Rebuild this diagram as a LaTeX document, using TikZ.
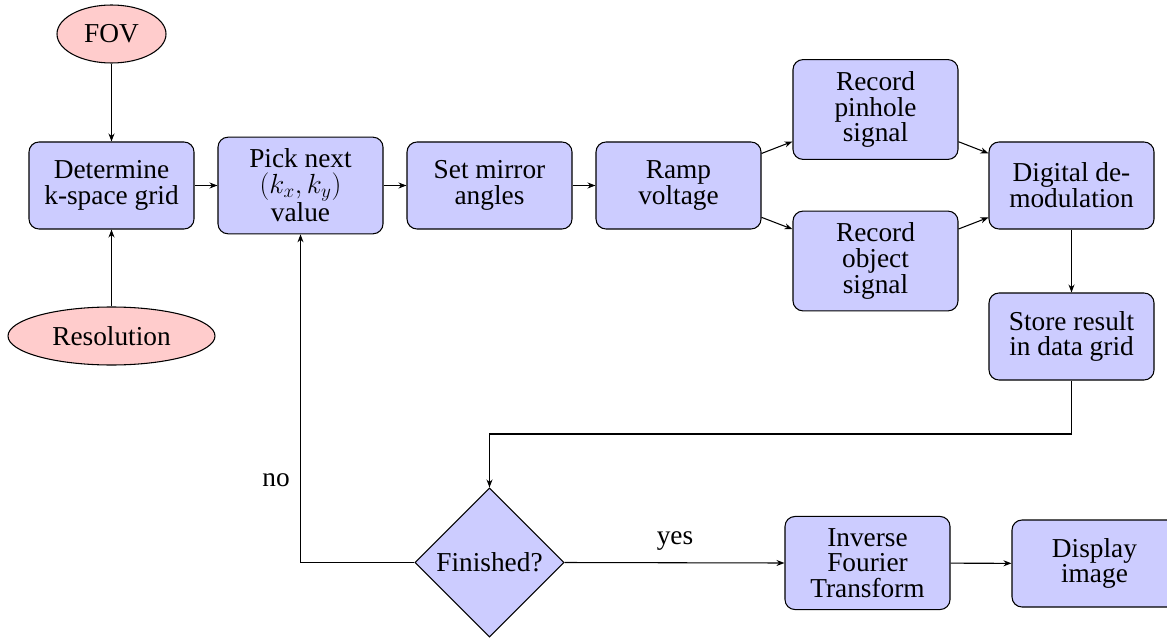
\documentclass[tikz,border=0pt]{standalone}
\usepackage{fontspec}
\setmainfont{Liberation Serif}
\newfontfamily\nodefont{Liberation Serif}
\usetikzlibrary{shapes.geometric,arrows.meta}
\begin{document}
\begin{tikzpicture}[x=0.75pt,y=-0.75pt,
  every node/.style={font=\nodefont\fontsize{20.5}{19.3}\selectfont},
  proc/.style={draw, rounded corners=7.5pt, fill=blue!20, align=center,
    minimum width=123.75pt, minimum height=65.25pt, inner xsep=4pt, inner ysep=8.8pt, line width=0.8pt},
  src/.style={draw, ellipse, fill=red!20, inner sep=1pt, line width=0.8pt},
  dec/.style={draw, diamond, fill=blue!20, inner sep=0pt, minimum size=111.75pt, line width=0.8pt},
  conn/.style={line width=0.8pt, -{Stealth[length=6pt,width=4.5pt]}},
  lbl/.style={inner sep=0pt}]
\useasboundingbox (0,0) rectangle (1167,638);

\node[src, minimum width=81.75pt, minimum height=43.5pt] (fov) at (111.5,34) {FOV};
\node[proc] (det) at (111.5,185.5) {Determine\\k-space grid};
\node[src, minimum width=155.25pt, minimum height=43.5pt] (res) at (111.5,336) {Resolution};
\node[proc] (pick) at (300.5,185.5) {Pick next\\$(k_x,k_y)$\\value};
\node[proc] (mir) at (489.5,185.5) {Set mirror\\angles};
\node[proc] (ramp) at (678.5,185.5) {Ramp\\voltage};
\node[proc] (pin) at (875.5,109.5) {Record\\pinhole\\signal};
\node[proc] (obj) at (875.5,261) {Record\\object\\signal};
\node[proc] (dem) at (1071.5,185.5) {Digital de-\\modulation};
\node[proc] (sto) at (1071.5,336.5) {Store result\\in data grid};
\node[dec] (fin) at (489.5,562.5) {Finished?};
\node[proc] (ift) at (867.5,563) {Inverse\\Fourier\\Transform};
\node[proc] (dis) at (1094.5,563.5) {Display\\image};
\coordinate (turn) at (780,434);

\draw[conn] (fov) -- (det);
\draw[conn] (res) -- (det);
\draw[conn] (det) -- (pick);
\draw[conn] (pick) -- (mir);
\draw[conn] (mir) -- (ramp);
\draw[conn] (ramp) -- (pin);
\draw[conn] (ramp) -- (obj);
\draw[conn] (pin) -- (dem);
\draw[conn] (obj) -- (dem);
\draw[conn] (dem) -- (sto);
\draw[conn] (sto.south) |- (turn) -| (fin.north);
\draw[conn] (fin.west) -| (pick.south);
\draw[conn] (fin.east) -- (ift.west);
\draw[conn] (ift) -- (dis);
\node[lbl] (no) at (276,480) {no};
\node[lbl] (yes) at (675,541) {yes};
\end{tikzpicture}
\end{document}
